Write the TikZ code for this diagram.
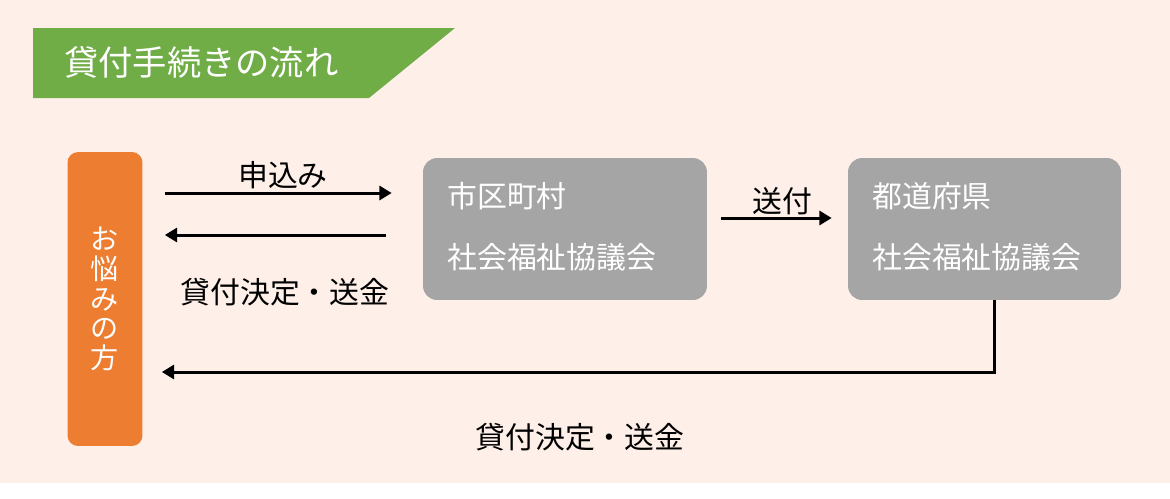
\documentclass[tikz,border=0pt]{standalone}
\usepackage{fontspec}
\setmainfont{Noto Sans CJK JP}
\usepackage{xcolor}
\usepackage{tikz}
\usetikzlibrary{arrows.meta,positioning,calc}

\definecolor{bgpeach}{HTML}{FEF0E9}
\definecolor{titlegreen}{HTML}{70AD47}
\definecolor{personorange}{HTML}{ED7D31}
\definecolor{boxgray}{HTML}{A5A5A5}

\begin{document}
\begin{tikzpicture}[x=0.02cm, y=-0.02cm,
  every node/.style={inner sep=0pt, font=\fontsize{17}{20}\selectfont},
  flow/.style={-{Triangle[length=7pt,width=8pt]}, line width=1.7pt, black},
  orgbox/.style={fill=boxgray, rounded corners=8pt, minimum height=2.84cm},
  orgtext/.style={white, anchor=west, align=left, font=\fontsize{17}{34.6}\selectfont}]

%% ── Canvas (1 unit = 1 px, y downwards) ─────────────────────────────────────
\useasboundingbox (0,0) rectangle (1170,498);
\fill[bgpeach] (0,0) rectangle (1170,483);

%% ── Title banner ─────────────────────────────────────────────────────────────
\fill[titlegreen] (33,28) -- (455,28) -- (369,98) -- (33,98) -- cycle;
\node[white, anchor=west, font=\fontsize{19.5}{22}\selectfont] (title) at (64,62)
  {貸付手続きの流れ};

%% ── Applicant ────────────────────────────────────────────────────────────────
\node[fill=personorange, rounded corners=6pt, minimum width=1.5cm,
      minimum height=5.88cm] (person) at (105,299) {};
\node[white, align=center, font=\fontsize{16}{17}\selectfont] (personlbl)
  at (person.center) {お\\悩\\み\\の\\方};

%% ── Councils ─────────────────────────────────────────────────────────────────
\node[orgbox, minimum width=5.68cm] (city) at (565,229) {};
\node[orgtext] (citylbl) at (447,227) {市区町村\\社会福祉協議会};

\node[orgbox, minimum width=5.46cm] (pref) at (984.5,229) {};
\node[orgtext] (preflbl) at (872,227) {都道府県\\社会福祉協議会};

%% ── Application / decision ───────────────────────────────────────────────────
\draw[flow, shorten <=0.44cm, shorten >=0.62cm]
  (person.east |- 0,193) -- (city.west |- 0,193);
\node (applylbl) at (283,175) {申込み};

\draw[flow, shorten <=0.74cm, shorten >=0.44cm]
  (city.west |- 0,235) -- (person.east |- 0,235);
\node (paylbl) at (285,292) {貸付決定・送金};

%% ── Forwarding ───────────────────────────────────────────────────────────────
\draw[flow, shorten <=0.28cm, shorten >=0.32cm]
  (city.east |- 0,218) -- (pref.west |- 0,218);
\node (sendlbl) at (782,201) {送付};

%% ── Return from prefecture ───────────────────────────────────────────────────
\draw[flow, shorten >=0.38cm]
  (pref.south -| 994,0) -- (994,372) -- (person.east |- 0,372);
\node (paylbl2) at (580,437) {貸付決定・送金};

\end{tikzpicture}
\end{document}
